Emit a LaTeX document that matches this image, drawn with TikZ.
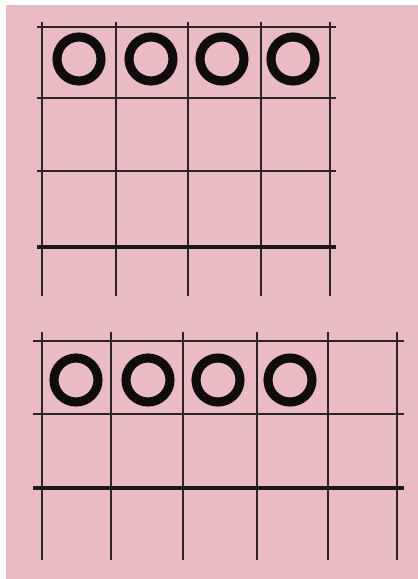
\documentclass[tikz,border=0pt]{standalone}
\definecolor{paper}{RGB}{234,187,195}
\begin{document}
\begin{tikzpicture}[x=0.75pt,y=-0.75pt,
    gridline/.style={line width=1.1pt,black!85},
    tenline/.style={line width=3.4pt,black!90},
    counter/.style={circle,draw=black!95,line width=6.8pt,minimum size=33pt,inner sep=0pt}]
  \fill[white] (0,0) rectangle (418,579);
  \fill[paper] (6,5) rectangle (418,579);
  % upper frame
  \foreach \x in {42,116,188,261,330}
    \draw[gridline] (\x,22) -- (\x,296);
  \foreach \y in {27,98,171}
    \draw[gridline] (37,\y) -- (336,\y);
  \draw[tenline] (37,247) -- (336,247);
  \foreach \x [count=\i] in {79,151,222,293}
    \node[counter] (up\i) at (\x,59) {};
  % lower frame
  \foreach \x in {42,111,183,257,328,397}
    \draw[gridline] (\x,332) -- (\x,560);
  \foreach \y in {341,414}
    \draw[gridline] (33,\y) -- (404,\y);
  \draw[tenline] (33,488) -- (404,488);
  \foreach \x [count=\i] in {76,148,218,290}
    \node[counter] (low\i) at (\x,380) {};
\end{tikzpicture}
\end{document}
